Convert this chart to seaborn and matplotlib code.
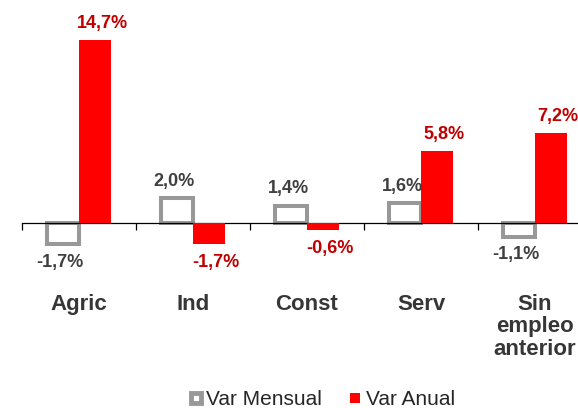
import matplotlib
matplotlib.use('Agg')
import matplotlib.pyplot as plt
from matplotlib.lines import Line2D
import seaborn as sns
import pandas as pd

# data
categories = ['Agric', 'Ind', 'Const', 'Serv', 'Sin\nempleo\nanterior']
var_mensual = [-1.7, 2.0, 1.4, 1.6, -1.1]
var_anual = [14.7, -1.7, -0.6, 5.8, 7.2]
series = ['Var Mensual', 'Var Anual']

gray = '#989898'
red = '#FF0000'
gray_txt = '#404040'
red_txt = '#C00000'

df = pd.DataFrame({
    'cat': categories * 2,
    'val': var_mensual + var_anual,
    'serie': [series[0]] * len(categories) + [series[1]] * len(categories),
})

sns.set_style('white')
plt.rcParams['font.family'] = ['Liberation Sans', 'DejaVu Sans']

fig = plt.figure(figsize=(5.78, 4.08), dpi=100)
ax = fig.add_axes([22 / 578, 0, 570 / 578, 1])

sns.barplot(data=df, x='cat', y='val', hue='serie', order=categories,
            hue_order=series, palette={series[0]: 'white', series[1]: red},
            width=0.57, dodge=True, saturation=1, legend=False, ax=ax)

# hollow gray bars for monthly change
for p in ax.containers[0]:
    p.set_facecolor('white')
    p.set_edgecolor(gray)
    p.set_linewidth(2.9)
    p.set_zorder(2)
for p in ax.containers[1]:
    p.set_edgecolor('none')
    p.set_zorder(3)

# value labels
for cont, vals, col, dx in [(ax.containers[0], var_mensual, gray_txt, -2),
                            (ax.containers[1], var_anual, red_txt, 5)]:
    for p, v in zip(cont, vals):
        xc = p.get_x() + p.get_width() / 2
        dy = 12 if v >= 0 else -13
        ax.annotate(f'{v:.1f}%'.replace('.', ','), (xc, v),
                    xytext=(dx, dy), textcoords='offset points',
                    ha='center', va='center', fontsize=13,
                    fontweight='bold', color=col)

px = 12.45
ax.set_ylim(-(408 - 223) / px, 223 / px)
ax.set_xlim(-0.5, 4.5)

for s in ['top', 'left', 'right']:
    ax.spines[s].set_visible(False)
ax.spines['bottom'].set_position(('data', 0))
ax.spines['bottom'].set_color('black')
ax.spines['bottom'].set_linewidth(0.9)
ax.set_yticks([])
ax.set_xlabel('')
ax.set_ylabel('')

ax.set_xticks([i - 0.5 for i in range(len(categories) + 1)])
ax.set_xticklabels([])
ax.tick_params(axis='x', which='major', direction='out', length=5,
               width=0.9, color='black', bottom=True)
ax.set_xticks(range(len(categories)), categories, minor=True)
ax.tick_params(axis='x', which='minor', length=0, pad=51, labelsize=16,
               labelcolor='#363636')
for lab in ax.get_xticklabels(minor=True):
    lab.set_fontweight('bold')
    lab.set_linespacing(1.1)

handles = [
    Line2D([], [], ls='none', marker='s', markersize=7.5, markerfacecolor='white',
           markeredgecolor=gray, markeredgewidth=3.5),
    Line2D([], [], ls='none', marker='s', markersize=7.2, markerfacecolor=red,
           markeredgewidth=0),
]
fig.legend(handles, series, loc='center', bbox_to_anchor=(322 / 578, 1 - 399.5 / 408),
           ncol=2, frameon=False, fontsize=15, handlelength=0.6,
           handletextpad=0.2, columnspacing=1.3, borderpad=0, borderaxespad=0)

fig.savefig('out.png', dpi=100)
